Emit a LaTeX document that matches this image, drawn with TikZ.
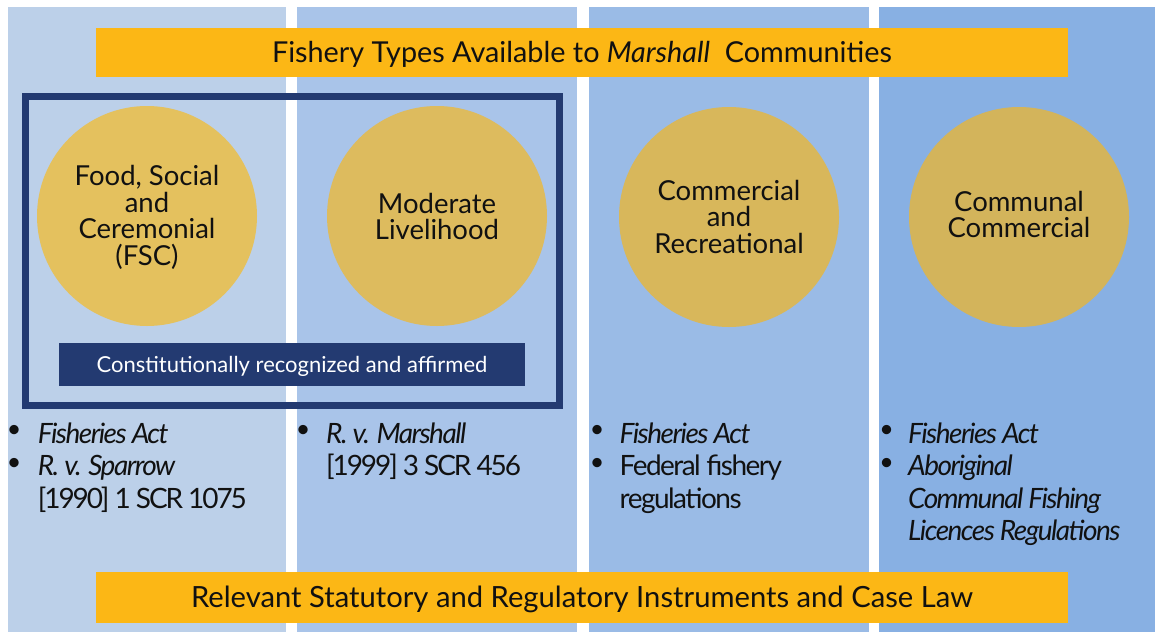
\documentclass[tikz,border=0pt]{standalone}
\usepackage{fontspec}
\setmainfont{Lato}
\newfontfamily\bulfont[LetterSpace=-5.5]{Lato}
\newfontfamily\numfont[LetterSpace=-7.5]{Lato}
\definecolor{colA}{HTML}{BCD0E9}
\definecolor{colB}{HTML}{A9C4E9}
\definecolor{colC}{HTML}{9ABBE6}
\definecolor{colD}{HTML}{88B0E3}
\definecolor{bannerc}{HTML}{FCB715}
\definecolor{navy}{HTML}{233A71}
\definecolor{circA}{HTML}{E4C15E}
\definecolor{circB}{HTML}{DDBB5E}
\definecolor{circC}{HTML}{D8B75B}
\definecolor{circD}{HTML}{D3B45B}
\definecolor{ink}{HTML}{111111}
% #1 = lowering of the text, #2 = distance from first to last baseline, #3 = lines separated by \cr
\newcommand{\ctext}[3]{\raisebox{-#1}[#2][0pt]{\vbox{\baselineskip=26.5pt \lineskiplimit=-100pt \halign{\hfil##\hfil\cr#3\crcr}}}}
\tikzset{
  banner/.style={fill=bannerc, inner sep=0pt, minimum width=972pt, text=ink, text depth=0pt},
  fishery/.style={circle, inner sep=0pt, minimum size=220pt, text=ink, font=\fontsize{27.5}{26.5}\selectfont},
  ln/.style={anchor=base west, inner sep=0pt, text=ink, font=\fontsize{28}{32}\bulfont},
  lnum/.style={anchor=base west, inner sep=0pt, text=ink, font=\fontsize{28}{32}\numfont},
  bul/.style={anchor=center, inner sep=0pt, text=ink, font=\fontsize{25}{30}\selectfont},
}
\begin{document}
\begin{tikzpicture}[x=1pt,y=-1pt]
\useasboundingbox (0,0) rectangle (1155,632);
\fill[white] (0,0) rectangle (1155,632);
% columns
\fill[colA] (8,7) rectangle (286,632);
\fill[colB] (297,7) rectangle (577,632);
\fill[colC] (589,7) rectangle (869,632);
\fill[colD] (879,7) rectangle (1155,632);
% banners
\node[banner, minimum height=49pt, text height=20.6pt, font=\fontsize{28.8}{32}\selectfont] (top) at (582,52) {Fishery Types Available to \textit{Marshall}\ \ Communities};
\node[banner, minimum height=51pt, text height=20.9pt, font=\fontsize{29.2}{32}\selectfont] (bottom) at (582,597.5) {Relevant Statutory and Regulatory Instruments and Case Law};
% circles
\node[fishery, fill=circA] (fsc) at (147,216) {\ctext{9.5pt}{79.5pt}{Food, Social\cr and\cr Ceremonial\cr (FSC)}};
\node[fishery, fill=circB] (ml) at (437,216) {\ctext{10.5pt}{26.5pt}{Moderate\cr Livelihood}};
\node[fishery, fill=circC] (cr) at (729,217) {\ctext{9.5pt}{53pt}{Commercial\cr and\cr Recreational}};
\node[fishery, fill=circD] (cc) at (1019,217) {\ctext{7.5pt}{26.5pt}{Communal\cr Commercial}};
% frame
\draw[navy, line width=7pt] (25,96.5) rectangle (559,405);
\node[fill=navy, inner sep=0pt, minimum width=466pt, minimum height=43pt, text=white, text height=15.8pt, text depth=0pt, font=\fontsize{22}{26}\selectfont] (band) at (292,364.5) {Constitutionally recognized and affirmed};
% column 1 list
\node[bul] (b1a) at (14,431.7) {•};
\node[ln] (t1a) at (37.7,443.3) {\itshape Fisheries Act};
\node[bul] (b1b) at (14,464.2) {•};
\node[ln] (t1b) at (37.7,475.8) {\itshape R. v. Sparrow};
\node[lnum] (t1c) at (37.7,508.3) {[1990] 1 SCR 1075};
% column 2 list
\node[bul] (b2a) at (303,431.7) {•};
\node[ln] (t2a) at (326,443.3) {\itshape R. v. Marshall};
\node[lnum] (t2b) at (326,475.8) {[1999] 3 SCR 456};
% column 3 list
\node[bul] (b3a) at (597,431.7) {•};
\node[ln] (t3a) at (619.5,443.3) {\itshape Fisheries Act};
\node[bul] (b3b) at (597,464.2) {•};
\node[ln] (t3b) at (619.5,475.8) {Federal fishery};
\node[ln] (t3c) at (619.5,508.3) {regulations};
% column 4 list
\node[bul] (b4a) at (886.5,431.7) {•};
\node[ln] (t4a) at (908,443.3) {\itshape Fisheries Act};
\node[bul] (b4b) at (886.5,464.2) {•};
\node[ln] (t4b) at (908,475.8) {\itshape Aboriginal};
\node[ln] (t4c) at (908,508.3) {\itshape Communal Fishing};
\node[ln] (t4d) at (908,540.8) {\itshape Licences Regulations};
\end{tikzpicture}
\end{document}
